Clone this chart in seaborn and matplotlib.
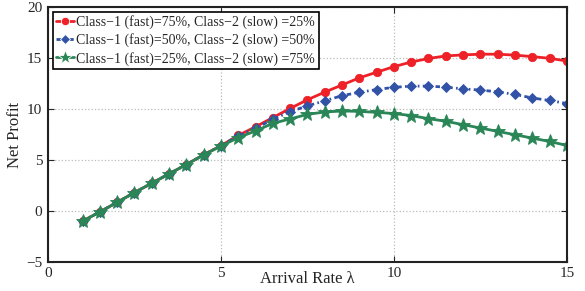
import matplotlib
matplotlib.use("Agg")
import matplotlib.pyplot as plt
import numpy as np
import pandas as pd
import seaborn as sns

# arrival rate values
arrival_rate = [1, 1.5, 2, 2.5, 3, 3.5, 4, 4.5, 5, 5.5, 6, 6.5, 7, 7.5, 8,
                8.5, 9, 9.5, 10, 10.5, 11, 11.5, 12, 12.5, 13, 13.5, 14, 14.5, 15]

profit_75_25 = [-1.0, -0.1, 0.85, 1.8, 2.72, 3.63, 4.55, 5.5, 6.4, 7.4, 8.25, 9.15, 10.05,
                10.9, 11.65, 12.35, 13.05, 13.6, 14.15, 14.6, 14.95, 15.2, 15.3, 15.37,
                15.37, 15.28, 15.13, 14.97, 14.7]
profit_50_50 = [-1.0, -0.1, 0.85, 1.8, 2.72, 3.63, 4.55, 5.5, 6.4, 7.35, 8.1, 8.98, 9.74,
                10.3, 10.8, 11.3, 11.63, 11.9, 12.12, 12.24, 12.24, 12.14, 11.97, 11.85,
                11.68, 11.42, 11.08, 10.83, 10.53]
profit_25_75 = [-1.0, -0.1, 0.85, 1.8, 2.72, 3.63, 4.55, 5.5, 6.35, 7.19, 7.84, 8.59, 9.02,
                9.47, 9.7, 9.8, 9.76, 9.67, 9.55, 9.35, 9.05, 8.79, 8.46, 8.13,
                7.8, 7.47, 7.14, 6.81, 6.42]

labels = ["Class\u22121 (fast)=75%, Class\u22122 (slow) =25%",
          "Class\u22121 (fast)=50%, Class\u22122 (slow) =50%",
          "Class\u22121 (fast)=25%, Class\u22122 (slow) =75%"]

x_ticks = [0, 5, 10, 15]
y_ticks = [-5, 0, 5, 10, 15, 20]

# long form table for seaborn
df = pd.concat([
    pd.DataFrame({"rate": arrival_rate, "profit": vals, "case": lab})
    for vals, lab in zip([profit_75_25, profit_50_50, profit_25_75], labels)
])

sns.set_style("ticks")
plt.rcParams["font.family"] = ["Liberation Serif", "DejaVu Serif"]

fig, ax = plt.subplots(figsize=(5.85, 2.91), dpi=100)
fig.subplots_adjust(left=0.082, right=0.969, top=0.976, bottom=0.1)

palette = dict(zip(labels, ["#ee2128", "#3252a8", "#2a8656"]))
markers = dict(zip(labels, ["o", "D", "*"]))
dashes = dict(zip(labels, ["", (1.6, 1.2, 0.6, 1.2), ""]))
msizes = [6, 5, 10]

sns.lineplot(data=df, x="rate", y="profit", hue="case", style="case",
             palette=palette, markers=markers, dashes=dashes,
             linewidth=2, markeredgewidth=0.6, ax=ax)

# per-series marker sizes
for line, ms in zip(ax.lines, msizes):
    line.set_markersize(ms)
    line.set_markeredgecolor(line.get_color())

ax.set_xlim(0, 15)
ax.set_ylim(-5, 20)
ax.set_xticks(x_ticks)
ax.set_yticks(y_ticks)
ax.grid(True, linestyle=":", color="#bbbbbb", linewidth=0.9)
ax.tick_params(direction="in", top=True, right=True, labelsize=11, length=4,
               width=0.8, pad=4)
for sp in ax.spines.values():
    sp.set_linewidth(1.5)
    sp.set_color("#222222")

ax.set_xlabel("Arrival Rate \u03bb", fontsize=12, labelpad=-7)
ax.set_ylabel("Net Profit", fontsize=12, labelpad=2)

handles, lbls = ax.get_legend_handles_labels()
for h, ms in zip(handles, msizes):
    h.set_markersize(ms)
leg = ax.legend(handles, lbls, loc="upper left", fontsize=10, frameon=True,
                fancybox=False, edgecolor="black", framealpha=1,
                borderpad=0.25, labelspacing=0.3, handlelength=1.3,
                handletextpad=0.15, borderaxespad=0.35)
leg.get_frame().set_linewidth(1.2)

fig.savefig("out.png", dpi=100)
